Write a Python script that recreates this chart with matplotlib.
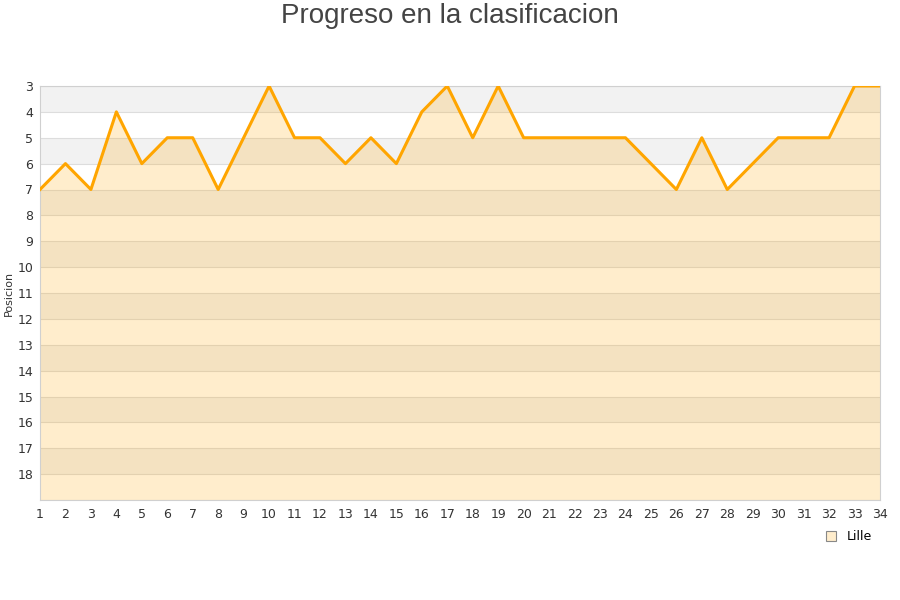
import matplotlib
matplotlib.use("Agg")
import matplotlib.pyplot as plt
from matplotlib.lines import Line2D

# ── Data ─────────────────────────────────────────────────────────────────────
jornadas = list(range(1, 35))
posicion = [7, 6, 7, 4, 6, 5, 5, 7, 5, 3, 5, 5, 6, 5, 6, 4, 3, 5, 3, 5,
            5, 5, 5, 5, 6, 7, 5, 7, 6, 5, 5, 5, 3, 3]
y_ticks = list(range(3, 19))
equipo = "Lille"
titulo = "Progreso en la clasificacion"

LINE = "#FFA500"

fig = plt.figure(figsize=(9, 6), dpi=100)
ax = fig.add_axes([40 / 900, 100 / 600, 840 / 900, 414 / 600])

# alternating row bands
for k, y0 in enumerate(range(3, 19)):
    ax.axhspan(y0, y0 + 1, color="#f2f2f2" if k % 2 == 0 else "#ffffff",
               zorder=0, lw=0)
for y0 in range(3, 20):
    ax.axhline(y0, color="#dddddd", lw=0.8, zorder=1)

ax.fill_between(jornadas, posicion, 19, color=LINE, alpha=0.2, lw=0, zorder=2)
ax.plot(jornadas, posicion, color=LINE, lw=2.2, zorder=3)

ax.set_xlim(1, 34)
ax.set_ylim(19, 3)
ax.set_xticks(jornadas)
ax.set_yticks(y_ticks)
ax.tick_params(length=0, labelsize=9, colors="#333333")
ax.tick_params(axis="x", pad=6)
ax.tick_params(axis="y", pad=5)
for s in ax.spines.values():
    s.set_color("#d0d0d0")
    s.set_linewidth(0.8)

fig.text(9 / 900, 1 - 293 / 600, "Posicion", rotation=90, ha="center",
         va="center", fontsize=8, color="#333333")

fig.text(0.5, 1 - 16 / 600, titulo, ha="center", va="center", fontsize=20,
         color="#444444", family=["Liberation Sans", "DejaVu Sans"])

handle = Line2D([], [], marker="s", ls="none", markersize=7,
                markerfacecolor="#ffedcc", markeredgecolor="#888888",
                markeredgewidth=0.8)
fig.legend([handle], [equipo], loc="center", bbox_to_anchor=(845 / 900, 1 - 537 / 600),
           frameon=False, fontsize=9, handletextpad=0.3)

fig.savefig("out.png", dpi=100)
